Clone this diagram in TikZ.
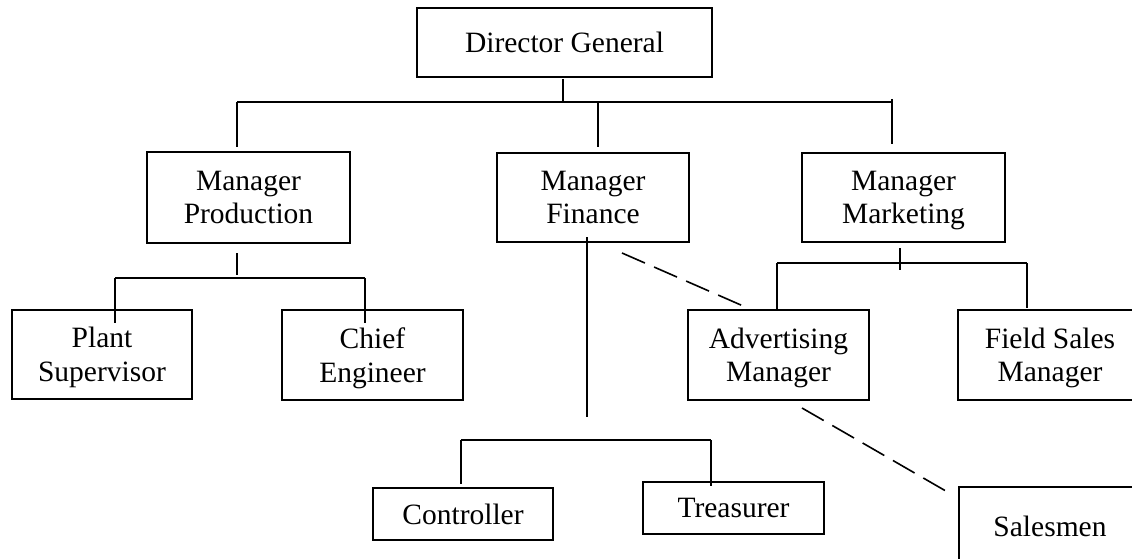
\documentclass[tikz,border=0pt]{standalone}
\usepackage{fontspec}
\setmainfont{Liberation Serif}
\begin{document}
\begin{tikzpicture}[x=1pt,y=-1pt,
  orgbox/.style={draw, line width=1.5pt, inner sep=0pt, align=center, text depth=0pt,
    font=\fontsize{29.5}{33.5}\selectfont},
  conn/.style={line width=1.6pt},
  dashconn/.style={line width=1.6pt, dash pattern=on 25pt off 10pt}]
\useasboundingbox (0,0) rectangle (1132,559);
\clip (0,0) rectangle (1132,559);
% boxes
\node[orgbox, minimum width=295pt, minimum height=69pt] (dg) at (564.5,42.5) {Director General};
\node[orgbox, minimum width=203pt, minimum height=91pt] (mp) at (248.5,197.5) {Manager\\Production};
\node[orgbox, minimum width=192pt, minimum height=89pt] (mf) at (593,197.5) {Manager\\Finance};
\node[orgbox, minimum width=203pt, minimum height=89pt] (mm) at (903.5,197.5) {Manager\\Marketing};
\node[orgbox, minimum width=180pt, minimum height=89pt] (ps) at (102,354.5) {Plant\\Supervisor};
\node[orgbox, minimum width=181pt, minimum height=90pt] (ce) at (372.5,355) {Chief\\Engineer};
\node[orgbox, minimum width=181pt, minimum height=90pt] (am) at (778.5,355) {Advertising\\Manager};
\node[orgbox, minimum width=184pt, minimum height=90pt] (fs) at (1050,355) {Field Sales\\Manager};
\node[orgbox, minimum width=180pt, minimum height=52pt] (ct) at (463,514) {Controller};
\node[orgbox, minimum width=181pt, minimum height=52pt] (tr) at (733.5,508) {Treasurer};
\node[orgbox, minimum width=182pt, minimum height=78pt] (sm) at (1050,526) {Salesmen};
% junction coordinates
\coordinate (dgA) at (563,79);
\coordinate (dgB) at (563,102);
\coordinate (busL) at (237,102);
\coordinate (busR) at (892,102);
\coordinate (mpTop) at (237,147);
\coordinate (mfJ) at (598,102);
\coordinate (mfTop) at (598,147);
\coordinate (mmJ) at (892,99);
\coordinate (mmTop) at (892,144);
\coordinate (mpA) at (237,253);
\coordinate (mpB) at (237,275);
\coordinate (pbL) at (115,278);
\coordinate (pbR) at (365,278);
\coordinate (psTop) at (115,323);
\coordinate (ceTop) at (365,323);
\coordinate (mfA) at (587,237);
\coordinate (mfB) at (587,417);
\coordinate (fbL) at (461,440);
\coordinate (fbR) at (711,440);
\coordinate (ctTop) at (461,484);
\coordinate (trTop) at (711,486);
\coordinate (mmA) at (900,248);
\coordinate (mmB) at (900,270);
\coordinate (kbL) at (777,263);
\coordinate (kbR) at (1027,263);
\coordinate (amTop) at (777,310);
\coordinate (fsTop) at (1027,308);
\coordinate (d1A) at (622,253);
\coordinate (d1B) at (750,309);
\coordinate (d2A) at (802,408);
\coordinate (d2B) at (951,494);
% connectors
\draw[conn] (dgA) -- (dgB);
\draw[conn] (busL) -- (busR);
\draw[conn] (busL) -- (mpTop);
\draw[conn] (mfJ) -- (mfTop);
\draw[conn] (mmJ) -- (mmTop);
\draw[conn] (mpA) -- (mpB);
\draw[conn] (pbL) -- (pbR);
\draw[conn] (pbL) -- (psTop);
\draw[conn] (pbR) -- (ceTop);
\draw[conn] (mfA) -- (mfB);
\draw[conn] (fbL) -- (fbR);
\draw[conn] (fbL) -- (ctTop);
\draw[conn] (fbR) -- (trTop);
\draw[conn] (mmA) -- (mmB);
\draw[conn] (kbL) -- (kbR);
\draw[conn] (kbL) -- (amTop);
\draw[conn] (kbR) -- (fsTop);
\draw[dashconn] (d1A) -- (d1B);
\draw[dashconn] (d2A) -- (d2B);
\end{tikzpicture}
\end{document}
